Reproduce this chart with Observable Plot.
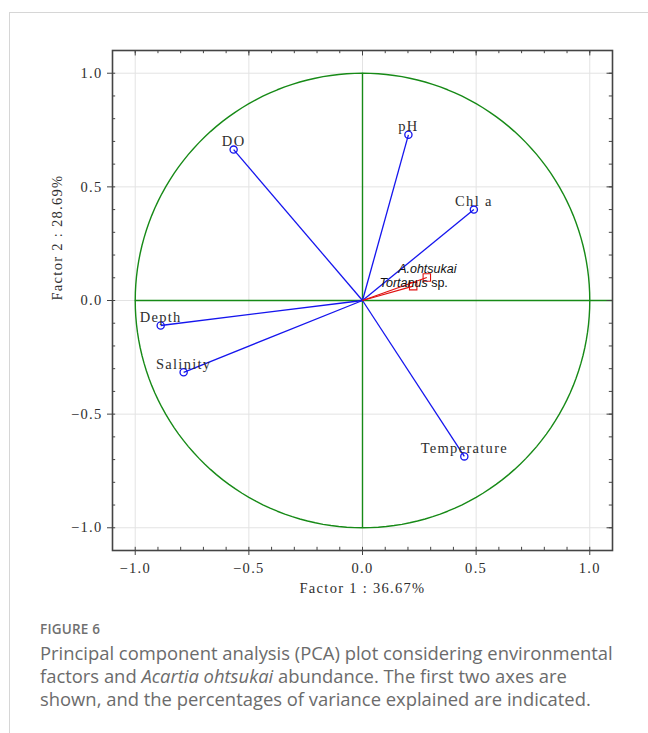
<!DOCTYPE html>
<html>
<head>
<meta charset="utf-8">
<script src="https://cdn.jsdelivr.net/npm/d3@7"></script>
<script src="https://cdn.jsdelivr.net/npm/@observablehq/plot@0.6"></script>
<style>
  html, body { margin: 0; padding: 0; background: #fff; width: 648px; height: 733px; overflow: hidden; }
  #chart { position: absolute; left: 0; top: 0; }
  #chart svg { background: transparent !important; }
  #box { position: absolute; left: 9px; top: 12px; width: 700px; height: 800px; border-left: 1px solid #d6d6d6; border-top: 1px solid #d6d6d6; pointer-events: none; }
  #cap { position: absolute; left: 40px; top: 620px; width: 580px; font-family: "Open Sans", sans-serif; color: #6b6b6b; }
  #cap .fig { font-size: 13.5px; font-weight: 600; letter-spacing: 0.2px; margin-bottom: 3px; color: #707070; }
  #cap .txt { font-size: 18.4px; line-height: 23px; font-weight: 400; }
</style>
</head>
<body>
<div id="chart"></div>
<div id="box"></div>
<div id="cap">
  <div class="fig">FIGURE 6</div>
  <div class="txt">Principal component analysis (PCA) plot considering environmental factors and <i>Acartia ohtsukai</i> abundance. The first two axes are shown, and the percentages of variance explained are indicated.</div>
</div>
<script>
// Environmental variable loadings (blue)
const envNames = ["DO", "pH", "Chl a", "Depth", "Salinity", "Temperature"];
const envF1 = [-0.567, 0.202, 0.490, -0.888, -0.787, 0.448];
const envF2 = [0.664, 0.729, 0.400, -0.110, -0.316, -0.686];

// Supplementary variables (red)
const supNames = ["A.ohtsukai", "Tortanus"];
const supF1 = [0.283, 0.223];
const supF2 = [0.101, 0.063];

const majorTicks = [-1.0, -0.5, 0.0, 0.5, 1.0];
const minorTicks = d3.range(-10, 11).map(i => i / 10);
const xLabel = "Factor 1 : 36.67%";
const yLabel = "Factor 2 : 28.69%";

const env = envNames.map((n, i) => ({name: n, x: envF1[i], y: envF2[i]}));
const sup = supNames.map((n, i) => ({name: n, x: supF1[i], y: supF2[i]}));
const circle = d3.range(0, 361, 2).map(a => ({x: Math.cos(a * Math.PI / 180), y: Math.sin(a * Math.PI / 180)}));

const LO = -1.1, HI = 1.1;
const serif = "'Liberation Serif', 'DejaVu Serif', serif";
const fmt = d => d3.format(".1f")(d);
const frameCol = "#444";
const txtCol = "#2e2e2e";

const chart = Plot.plot({
  width: 648,
  height: 610,
  marginLeft: 112,
  marginRight: 36,
  marginTop: 50,
  marginBottom: 60,
  x: {domain: [LO, HI]},
  y: {domain: [LO, HI]},
  style: {fontFamily: serif, fontSize: "14px", color: txtCol, background: "transparent", letterSpacing: "1.3px"},
  marks: [
    // grid
    Plot.ruleX(majorTicks, {stroke: "#e3e3e3", strokeWidth: 1}),
    Plot.ruleY(majorTicks, {stroke: "#e3e3e3", strokeWidth: 1}),
    // green circle & axes
    Plot.line(circle, {x: "x", y: "y", stroke: "#178a17", strokeWidth: 1.4}),
    Plot.ruleY([0], {x1: -1, x2: HI, stroke: "#178a17", strokeWidth: 1.4}),
    Plot.ruleX([0], {y1: -1, y2: 1, stroke: "#178a17", strokeWidth: 1.4}),
    // blue vectors
    Plot.link(env, {x1: 0, y1: 0, x2: "x", y2: "y", stroke: "#1515ee", strokeWidth: 1.3}),
    Plot.dot(env, {x: "x", y: "y", r: 3.6, stroke: "#1515ee", strokeWidth: 1.3, fill: "none"}),
    Plot.text(env, {x: "x", y: "y", text: "name", dy: -8, fill: txtCol, fontSize: 14.5, fontFamily: serif}),
    // red vectors
    Plot.link(sup, {x1: 0, y1: 0, x2: "x", y2: "y", stroke: "#e01010", strokeWidth: 1.2}),
    Plot.dot(sup, {x: "x", y: "y", r: 4.2, symbol: "square", stroke: "#e01010", strokeWidth: 1.1, fill: "none"}),
    // frame
    Plot.frame({stroke: frameCol, strokeWidth: 1.6}),
    // minor ticks inside (all sides)
    Plot.ruleX(minorTicks, {y1: HI, y2: HI - 0.014, stroke: frameCol}),
    Plot.ruleX(minorTicks, {y1: LO, y2: LO + 0.014, stroke: frameCol}),
    Plot.ruleY(minorTicks, {x1: HI, x2: HI - 0.014, stroke: frameCol}),
    Plot.ruleY(minorTicks, {x1: LO, x2: LO + 0.014, stroke: frameCol}),
    // major ticks inside on top/right
    Plot.ruleX(majorTicks, {y1: HI, y2: HI - 0.024, stroke: frameCol}),
    Plot.ruleY(majorTicks, {x1: HI, x2: HI - 0.024, stroke: frameCol}),
    // axes (outward major ticks)
    Plot.axisX(majorTicks, {anchor: "bottom", tickSize: 5, tickPadding: 7, tickFormat: fmt, stroke: frameCol, fontSize: 14.5, fontFamily: serif, fill: txtCol, label: null}),
    Plot.axisY(majorTicks, {anchor: "left", tickSize: 5, tickPadding: 5, tickFormat: fmt, stroke: frameCol, fontSize: 14.5, fontFamily: serif, fill: txtCol, label: null}),
    Plot.text([xLabel], {frameAnchor: "bottom", dy: 42, text: d => d, fontSize: 14.5, fontFamily: serif, fill: txtCol}),
    Plot.text([yLabel], {frameAnchor: "left", dx: -55, rotate: -90, text: d => d, fontSize: 14.5, fontFamily: serif, fill: txtCol})
  ]
});

// Italic species labels (with non-italic "sp.") positioned via the chart's scales
const sx = chart.scale("x"), sy = chart.scale("y");
const svg = d3.select(chart);
const g = svg.append("g").attr("font-family", "'Liberation Sans', Arial, sans-serif").attr("font-size", 12.5).attr("fill", "#111").style("letter-spacing", "0px");
g.append("text")
  .attr("x", sx.apply(sup[0].x)).attr("y", sy.apply(sup[0].y)).attr("dx", 1).attr("dy", -4)
  .attr("text-anchor", "middle").attr("font-style", "italic").text(sup[0].name);
const t2 = g.append("text")
  .attr("x", sx.apply(sup[1].x)).attr("y", sy.apply(sup[1].y)).attr("dx", 1).attr("dy", 1)
  .attr("text-anchor", "middle");
t2.append("tspan").attr("font-style", "italic").text(sup[1].name);
t2.append("tspan").text(" sp.");

document.getElementById("chart").appendChild(chart);
</script>
</body>
</html>
